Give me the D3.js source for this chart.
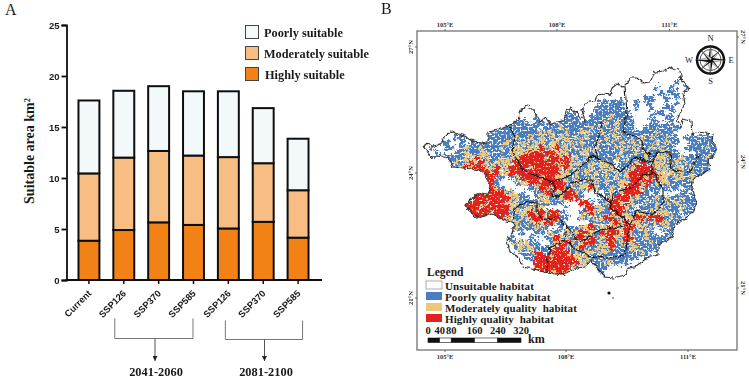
<!DOCTYPE html>
<html><head><meta charset="utf-8">
<script src="https://cdnjs.cloudflare.com/ajax/libs/d3/7.8.5/d3.min.js"></script>
<style>html,body{margin:0;padding:0;background:#fff}svg{display:block}
.s{font-family:"Liberation Serif",serif;font-weight:700;fill:#1a1a1a}
.a{font-family:"Liberation Sans",sans-serif;font-weight:700;fill:#1a1a1a}</style>
</head><body><svg id="c" width="749" height="380"></svg>
<script>
// ---- panel A data
const scenarios=["Current","SSP126","SSP370","SSP585","SSP126","SSP370","SSP585"];
const highly=[3.85,4.9,5.65,5.4,5.05,5.7,4.15];
const moderately=[6.6,7.1,7.0,6.8,7.0,5.75,4.65];
const poorly=[7.15,6.55,6.35,6.3,6.45,5.4,5.05];
const seriesNames=["Highly suitable","Moderately suitable","Poorly suitable"];
const seriesColors=["#f28118","#f7bd82","#f3f8fb"];
const yTicks=[0,5,10,15,20,25];
const periods=[["2041-2060",1,3],["2081-2100",4,6]];
// ---- panel B data (digitised map units)
const lonTop=[["105°E",445],["108°E",557],["111°E",669.5]];
const lonBottom=[["105°E",445],["108°E",566],["111°E",688]];
const latLeft=[["27°N",47],["24°N",173],["21°N",298]];
const latRight=[["27°N",37],["24°N",162],["21°N",288]];
const habitatNames=["Unsuitable habitat","Poorly quality habitat","Moderately quality  habitat","Highly quality  habitat"];
const habitatColors={".":"#ffffff",b:"#4a7dbd",y:"#ecc878",r:"#e1231f"};
const habitatRows=[
"..... ..... ..... ..... ..... ..... ..... ..... ..... ..... ..... .....",
"..... ..... ..... ..... ..... ..... ..... ..... ..... ..... ..... .....",
"..... ..... ..... ..... ..... ..... ..... ..... ..... ..... .b... .....",
"..... ..... ..... ..... ..... ..... ..... ..... ..... ..... b.... .....",
"..... ..... ..... ..... ..... ..... ..... ..... ..... .b..b ..b.. .....",
"..... ..... ..... ..... ..... ..... ..... ..... ..... ..b.b b.... .....",
"..... ..... ..... ..... ..... ..... ..... ..... ....b b..b. b.... .....",
"..... ..... ..... ..... ..... ..... ..... bbbbb ..b.b b..b. b.... .....",
"..... ..... ..... ..... ..... ..... ....b bbbbb ..b.. b..bb ..... .....",
"..... ..... ..... ..... ...b. ...bb .b..b bbbbb b.... .bb.b ..... .....",
"..... ..... ..... ..... ..bb. bbbbb b..bb bbybb bb... b..bb ..... .....",
"..... ..... ..... ...bb b.bb. bbbbb bbbbb bybyb bb... bb..b ..... .....",
"..... ..... ..... bbbbb bbb.b bbybb bbbyb ybbyb bb..b bbbbb b.... .....",
"..... ..... ...bb bbbbb bbbyb ybbyb byybb ybyby bbbbb bybbb ..... .....",
"...b. .bb.. ..bbb bbbyb bybyb ybyyb ybybb bybyb bybyb ybbyb b.bbb bbb..",
"..b.b ..b.b bbbbb bybby ybyyb yybyy bybby bbyby bybyb bybyb b..bb bbbb.",
".b..b b.byb bybbb ybbyy byyry yryyb ybyby bbbyb ybybb ybybb ..bbb bybb.",
"..b.. .bbyb byybb bbyyy yrryr ryyyb byyby bbbby bbyby bbyyb b...b bbbb.",
"..b.b bbbyy ryybb ybyyr rrrry rryry ybybb bbbyb ybbby byyyb bybbb bybb.",
"..... bybyr yryby yyyrr rrrrr ryrry yybyb yyb.b bbyrb yyyby ybybb bbb..",
"..... bbyry rryyr yyrrr ryrrr rryry bybyb yyy.b byrrr ryyyb yybyb bb...",
"..... byyyr rrryr yyrrr rrrrr rryyb ybyby bybyb yrrrr ryyyy bybyb bb...",
"..... ..... yrrry b.byr rrryr ryyyb ybbyb bybyb yrrry rryyb yybyb b....",
"..... ..... rrrrb ...by yrrrr rrryb ybyby bybby yrryr byyyb bbbbb b....",
"..... ..... rrrry b.... .byrr yrrby byyry bbyby rrryb bbbbb b.bbb .....",
"..... ..... rrrrr ryy.b ..byr ryyrr yb..b .byby rrrrb .b... .bb.b b....",
"..... ..... rrrrr rryyb b.byy bbyrr rb... bbyrr ryybb bybyb bybbb b....",
"..... ...rr rryrr ryyyb bbyby bbb.. .rrb. byrry rybby bybyb ybbbb .....",
"..... ..rrr ryrrr rryyb yyby. ...b. ..rry ybrrr yb.bb byybb bybb. .....",
"..... ..rrr rrryr rrbyy yryry rrb.. .byry bbbrr ybyyb ybyyb b.bb. .....",
"..... ...rr rrryr ryyby yrrry rrbb. .ybyb yrryb yyrry rrrby bb.b. .....",
"..... ..... ..rrr ryyyb byryr rbb.. ...by bbyry ryyyb byyyb b.... .....",
"..... ..... ..... ybyyb bbybb ..b.b byyrb yyryy rrbyy b.byb ..... .....",
"..... ..... ..... .bb.b ..bb. yb.yy yrryb ryrry rybby b..bb ..... .....",
"..... ..... ..... ..b.. .b..b yryyb rryrb yrryy rrbby bbbby ..... .....",
"..... ..... ..... ..byy ybb.. byyry byrrb yyrby rybbb ybbbb ..... .....",
"..... ..... ..... ...by yybbb yrryb yrbby yyrbb byybb bb... ..... .....",
"..... ..... ..... ....b byrrb rrrrb ybyyb yybbb bbbyb ..... ..... .....",
"..... ..... ..... ..... bbrrr yrrrr yyybb bbbbb bbb.b ..... ..... .....",
"..... ..... ..... ..... ..rrr rrrrr ryybb byybb b...b ..... ..... .....",
"..... ..... ..... ..... ..rrr rrrry yybbb bb... ..b.. ..... ..... .....",
"..... ..... ..... ..... ...rr yrrry ..ybb b.... ..... ..... ..... ....."
];
const outline=[[424,146],[427,143],[432,146],[438,145],[443,139],[448,134],[452,131],[458,134],[465,136],[470,140],[482,143],[488,142],[488,132],[498,130],[508,126],[518,120],[521,110],[528,105],[535,113],[540,122],[546,117],[551,124],[564,120],[566,111],[570,108],[578,113],[585,122],[582,110],[585,103],[595,101],[597,95],[603,94],[610,95],[612,88],[617,84],[623,87],[627,83],[630,78],[638,78],[643,83],[650,82],[655,72],[665,71],[670,67],[680,71],[682,81],[690,88],[683,93],[685,103],[677,120],[681,128],[683,119],[691,121],[692,135],[698,132],[713,134],[712,142],[717,148],[713,157],[708,160],[710,170],[703,173],[693,180],[692,188],[697,203],[693,212],[683,220],[675,225],[672,238],[658,245],[658,255],[647,258],[635,267],[628,268],[625,275],[613,278],[605,277],[598,270],[595,265],[590,260],[585,267],[577,268],[572,270],[562,275],[547,273],[537,270],[523,267],[520,258],[510,252],[507,240],[512,233],[515,223],[503,220],[492,214],[478,218],[470,212],[465,205],[470,200],[478,193],[487,195],[490,190],[488,180],[483,172],[480,170],[463,168],[453,167],[448,158],[438,155],[432,159]];
const borders=[
[[510,127],[515,137],[512,150],[517,160],[523,170],[533,175],[553,182],[565,178],[577,170],[593,155],[598,160],[610,163],[620,172],[637,157],[653,163]],
[[602,122],[600,133],[595,147],[598,160]],
[[625,87],[627,113],[623,132],[640,138],[643,143],[642,148],[650,155],[653,163],[652,173],[643,175],[633,187],[613,193],[612,202],[595,192],[592,180],[583,180],[570,183],[570,187],[557,197],[552,195],[555,187],[552,182]],
[[653,160],[657,152],[670,153],[672,170],[690,172],[697,158],[700,155]],
[[652,170],[657,180],[663,190],[663,202],[657,212],[650,215],[637,210],[630,225],[617,213],[610,208],[612,202]],
[[630,225],[613,228],[600,230],[590,237],[580,242],[567,227],[557,217],[543,220],[537,212],[537,203],[527,202],[515,208],[513,220]],
[[630,225],[627,242],[625,255],[607,258],[593,257],[577,250],[565,240],[550,248],[548,258],[547,273]],
[[567,227],[565,240]]
];
const islands=[[609,293,1.6],[613,298,.7]];
const scaleKm=[0,40,80,160,240,320];
const scaleLabels=["0","40","80","160","240","320"];

const svg=d3.select("#c");
const defs=svg.append("defs");
function speckle(id,seed,keep){
 const f=defs.append("filter").attr("id",id).attr("filterUnits","userSpaceOnUse").attr("x",410).attr("y",50).attr("width",330).attr("height",240).attr("color-interpolation-filters","sRGB");
 f.append("feTurbulence").attr("type","fractalNoise").attr("baseFrequency",.3).attr("numOctaves",2).attr("seed",seed).attr("result","n");
 f.append("feDisplacementMap").attr("in","SourceGraphic").attr("in2","n").attr("scale",10).attr("xChannelSelector","R").attr("yChannelSelector","G").attr("result","d");
 f.append("feTurbulence").attr("type","fractalNoise").attr("baseFrequency",.5).attr("numOctaves",1).attr("seed",seed+20).attr("result","h");
 f.append("feColorMatrix").attr("in","h").attr("type","matrix").attr("values",`0 0 0 0 1  0 0 0 0 1  0 0 0 0 1  10 0 0 0 ${-10*keep}`).attr("result","m");
 f.append("feComposite").attr("in","d").attr("in2","m").attr("operator","in").attr("result","c");
 f.append("feGaussianBlur").attr("in","c").attr("stdDeviation",.55);
}
speckle("spB",7,.36);
speckle("spY",9,.40);
speckle("spR",7,.28);
const jag=defs.append("filter").attr("id","jag").attr("filterUnits","userSpaceOnUse").attr("x",410).attr("y",50).attr("width",330).attr("height",240).attr("color-interpolation-filters","sRGB");
jag.append("feTurbulence").attr("type","fractalNoise").attr("baseFrequency",.22).attr("numOctaves",2).attr("seed",11).attr("result","n");
jag.append("feDisplacementMap").attr("in","SourceGraphic").attr("in2","n").attr("scale",4.5).attr("xChannelSelector","R").attr("yChannelSelector","G");
defs.append("filter").attr("id","soft2").append("feGaussianBlur").attr("stdDeviation",.3);
const clip=defs.append("clipPath").attr("id","gx");
const root=svg.append("g");

// ---------- Panel A
root.append("text").attr("class","s").attr("x",5).attr("y",15).style("font-weight",400).style("font-size","16px").text("A");
const x=d3.scaleBand().domain(d3.range(scenarios.length)).range([71.5,315.5]).paddingInner(.4).paddingOuter(.2);
const y=d3.scaleLinear().domain([0,25]).range([280,25]);
const stack=d3.stack().keys([0,1,2]).value((d,k)=>[highly,moderately,poorly][k][d]);
const layers=stack(d3.range(scenarios.length));
const A=root.append("g").attr("filter","url(#soft2)");
A.selectAll("g.l").data(layers).join("g").attr("class","l").attr("fill",(d,i)=>seriesColors[i])
 .selectAll("rect").data(d=>d).join("rect")
 .attr("x",d=>x(d.data)).attr("width",x.bandwidth()).attr("y",d=>y(d[1])).attr("height",d=>y(d[0])-y(d[1]))
 .attr("stroke","#111").attr("stroke-width",2);
const yAxis=A.append("g").attr("transform","translate(66.5,0)").call(d3.axisLeft(y).tickValues(yTicks).tickSize(5).tickPadding(2));
yAxis.selectAll("path,line").attr("stroke","#111").attr("stroke-width",1.8);
yAxis.selectAll("text").attr("class","a").style("font-size","9.5px").attr("font-family",null);
const xAxis=A.append("g").attr("transform","translate(0,280)").call(d3.axisBottom(x).tickFormat(i=>scenarios[i]).tickSize(4));
xAxis.select("path").attr("d","M65.5,0H322").attr("stroke","#111").attr("stroke-width",1.8);
xAxis.selectAll("line").attr("stroke","#111").attr("stroke-width",1.5);
xAxis.selectAll("text").attr("class","a").style("font-size","9.3px").attr("font-family",null)
 .attr("text-anchor","end").attr("dy",0).attr("y",0).attr("transform","translate(3,14) rotate(-45)");
root.append("text").attr("class","s").attr("transform","translate(34,151) rotate(-90)").attr("text-anchor","middle").style("font-size","14px").text("Suitable area km²");
// legend A
const legA=root.append("g");
[2,1,0].forEach((k,i)=>{
 const ly=25.5+i*21;
 legA.append("rect").attr("x",245.5).attr("y",ly).attr("width",13).attr("height",13).attr("fill",seriesColors[k]).attr("stroke","#444").attr("stroke-width",1);
 legA.append("text").attr("class","s").attr("x",i==2?265:264).attr("y",ly+11).style("font-size","12.3px").text(seriesNames[k]);
});
// brackets
defs.append("marker").attr("id","arr").attr("viewBox","0 0 6 6").attr("refX",6).attr("refY",3).attr("markerWidth",5).attr("markerHeight",5).attr("orient","auto")
 .append("path").attr("d","M0,0L6,3L0,6Z").attr("fill","#222");
periods.forEach(([label,a,b],i)=>{
 const x0=x(a)+x.bandwidth()/2-(i?3:9), x1=x(b)+x.bandwidth()/2+(i?4.5:-0.5), top=i?320.5:318.5, mid=i?339.5:338.5, cx=i?264.5:155;
 root.append("path").attr("d",d3.line()([[x0,top],[x0,mid],[x1,mid],[x1,top]])).attr("fill","none").attr("stroke","#777").attr("stroke-width",1);
 root.append("path").attr("d",d3.line()([[cx,mid],[cx,361]])).attr("stroke","#555").attr("stroke-width",1).attr("marker-end","url(#arr)");
 root.append("text").attr("class","s").attr("x",i?266:156).attr("y",376).attr("text-anchor","middle").style("font-size","12.4px").text(label);
});

// ---------- Panel B
root.append("text").attr("class","s").attr("x",381).attr("y",14).style("font-weight",400).style("font-size","16px").text("B");
const mapX=d3.scaleLinear().domain([417,737]).range([417,737]);
const mapY=d3.scaleLinear().domain([31,350]).range([31,350]);
const proj=d3.line().x(d=>mapX(d[0])).y(d=>mapY(d[1]));
clip.append("path").attr("d",proj(outline)+"Z");
const cells=[];
habitatRows.forEach((row,r)=>{row.replace(/ /g,"").split("").forEach((ch,c)=>{if(ch!=".")cells.push({c,r,ch});});});
const M=root.append("g");
const clipped=M.append("g").attr("clip-path","url(#gx)");
// each class is painted over the class below it, so the speckle shows the next lower class through
[["b","bry","spB"],["y","yr","spY"],["r","r","spR"]].forEach(([col,members,flt])=>{
 clipped.append("g").attr("filter",`url(#${flt})`).selectAll("rect").data(cells.filter(d=>members.includes(d.ch))).join("rect")
  .attr("x",d=>mapX(424+5*d.c)).attr("y",d=>mapY(65+5*d.r)).attr("width",5.2).attr("height",5.2)
  .attr("fill",habitatColors[col]);
});
const lines=M.append("g").attr("filter","url(#jag)");
lines.append("path").attr("d",proj(outline)+"Z").attr("fill","none").attr("stroke","#333").attr("stroke-width",1.1).attr("stroke-linejoin","round");
lines.selectAll("path.b").data(borders).join("path").attr("class","b").attr("d",proj).attr("fill","none").attr("stroke","#111").attr("stroke-width",1.1).attr("stroke-linejoin","round");
M.selectAll("circle.i").data(islands).join("circle").attr("class","i").attr("cx",d=>mapX(d[0])).attr("cy",d=>mapY(d[1])).attr("r",d=>d[2]).attr("fill","#111");
M.append("rect").attr("x",mapX(417)).attr("y",mapY(31)).attr("width",320).attr("height",319).attr("fill","none").attr("stroke","#666").attr("stroke-width",1.2);
const tickStyle=s=>s.attr("class","s").style("font-size","6.5px").style("fill","#333");
lonTop.forEach(([t,px])=>{M.append("line").attr("x1",mapX(px)).attr("x2",mapX(px)).attr("y1",29).attr("y2",31).attr("stroke","#666");
 M.append("text").call(tickStyle).attr("x",mapX(px)).attr("y",27).attr("text-anchor","middle").text(t);});
lonBottom.forEach(([t,px])=>{M.append("line").attr("x1",mapX(px)).attr("x2",mapX(px)).attr("y1",350).attr("y2",352).attr("stroke","#666");
 M.append("text").call(tickStyle).attr("x",mapX(px)).attr("y",359).attr("text-anchor","middle").text(t);});
latLeft.forEach(([t,py])=>{M.append("line").attr("x1",415).attr("x2",417).attr("y1",mapY(py)).attr("y2",mapY(py)).attr("stroke","#666");
 M.append("text").call(tickStyle).attr("transform",`translate(413,${mapY(py)}) rotate(-90)`).attr("text-anchor","middle").text(t);});
latRight.forEach(([t,py])=>{M.append("line").attr("x1",737).attr("x2",739).attr("y1",mapY(py)).attr("y2",mapY(py)).attr("stroke","#666");
 M.append("text").call(tickStyle).attr("transform",`translate(741,${mapY(py)}) rotate(90)`).attr("text-anchor","middle").text(t);});
// compass
const cp=M.append("g").attr("transform","translate(710.5,60)");
cp.append("circle").attr("r",13.5).attr("fill","none").attr("stroke","#111").attr("stroke-width",2.4);
cp.append("circle").attr("r",10.5).attr("fill","none").attr("stroke","#111").attr("stroke-width",.7);
d3.range(16).forEach(i=>{
 const main=i%4==0, diag=i%4==2; if(!(main||diag)) return;
 const a=i*Math.PI/8, R=main?15:13, w=main?2.4:1.8;
 const p=(r,t)=>[r*Math.sin(t),-r*Math.cos(t)];
 cp.append("path").attr("d",d3.line()([[0,0],p(w,a-Math.PI/2),p(R,a)])+"Z").attr("fill","#111");
 cp.append("path").attr("d",d3.line()([[0,0],p(w,a+Math.PI/2),p(R,a)])+"Z").attr("fill","#fff").attr("stroke","#111").attr("stroke-width",.4);
});
[["N",710.5,41],["S",710.5,84],["W",689,63],["E",731,63]].forEach(d=>
 M.append("text").attr("class","s").style("font-weight",400).style("font-size","8.5px").attr("x",d[1]).attr("y",d[2]).attr("text-anchor","middle").text(d[0]));
// map legend
M.append("text").attr("class","s").attr("x",427).attr("y",276).style("font-size","11.5px").text("Legend");
habitatNames.forEach((n,i)=>{
 const ly=281+i*11;
 M.append("rect").attr("x",426).attr("y",ly).attr("width",16).attr("height",8).attr("fill",[".","b","y","r"].map(k=>habitatColors[k])[i]).attr("stroke",i?"none":"#999").attr("stroke-width",.8);
 M.append("text").attr("class","s").attr("x",445).attr("y",ly+9).style("font-size","11px").style("letter-spacing",".1px").style("white-space","pre").attr("xml:space","preserve").text(n);
});
const km=d3.scaleLinear().domain([0,320]).range([428,521]);
d3.pairs(scaleKm).forEach(([a,b],i)=>{
 M.append("rect").attr("x",km(a)).attr("y",338).attr("width",km(b)-km(a)).attr("height",4.5).attr("fill",i%2?"#fff":"#111").attr("stroke","#111").attr("stroke-width",.6);
});
scaleKm.forEach((k,i)=>{
 M.append("text").attr("class","s").attr("x",km(k)).attr("y",333.5).attr("text-anchor","middle").style("font-size","10.5px").text(scaleLabels[i]);
});
M.append("text").attr("class","s").attr("x",528).attr("y",343).style("font-size","12px").text("km");
</script></body></html>
